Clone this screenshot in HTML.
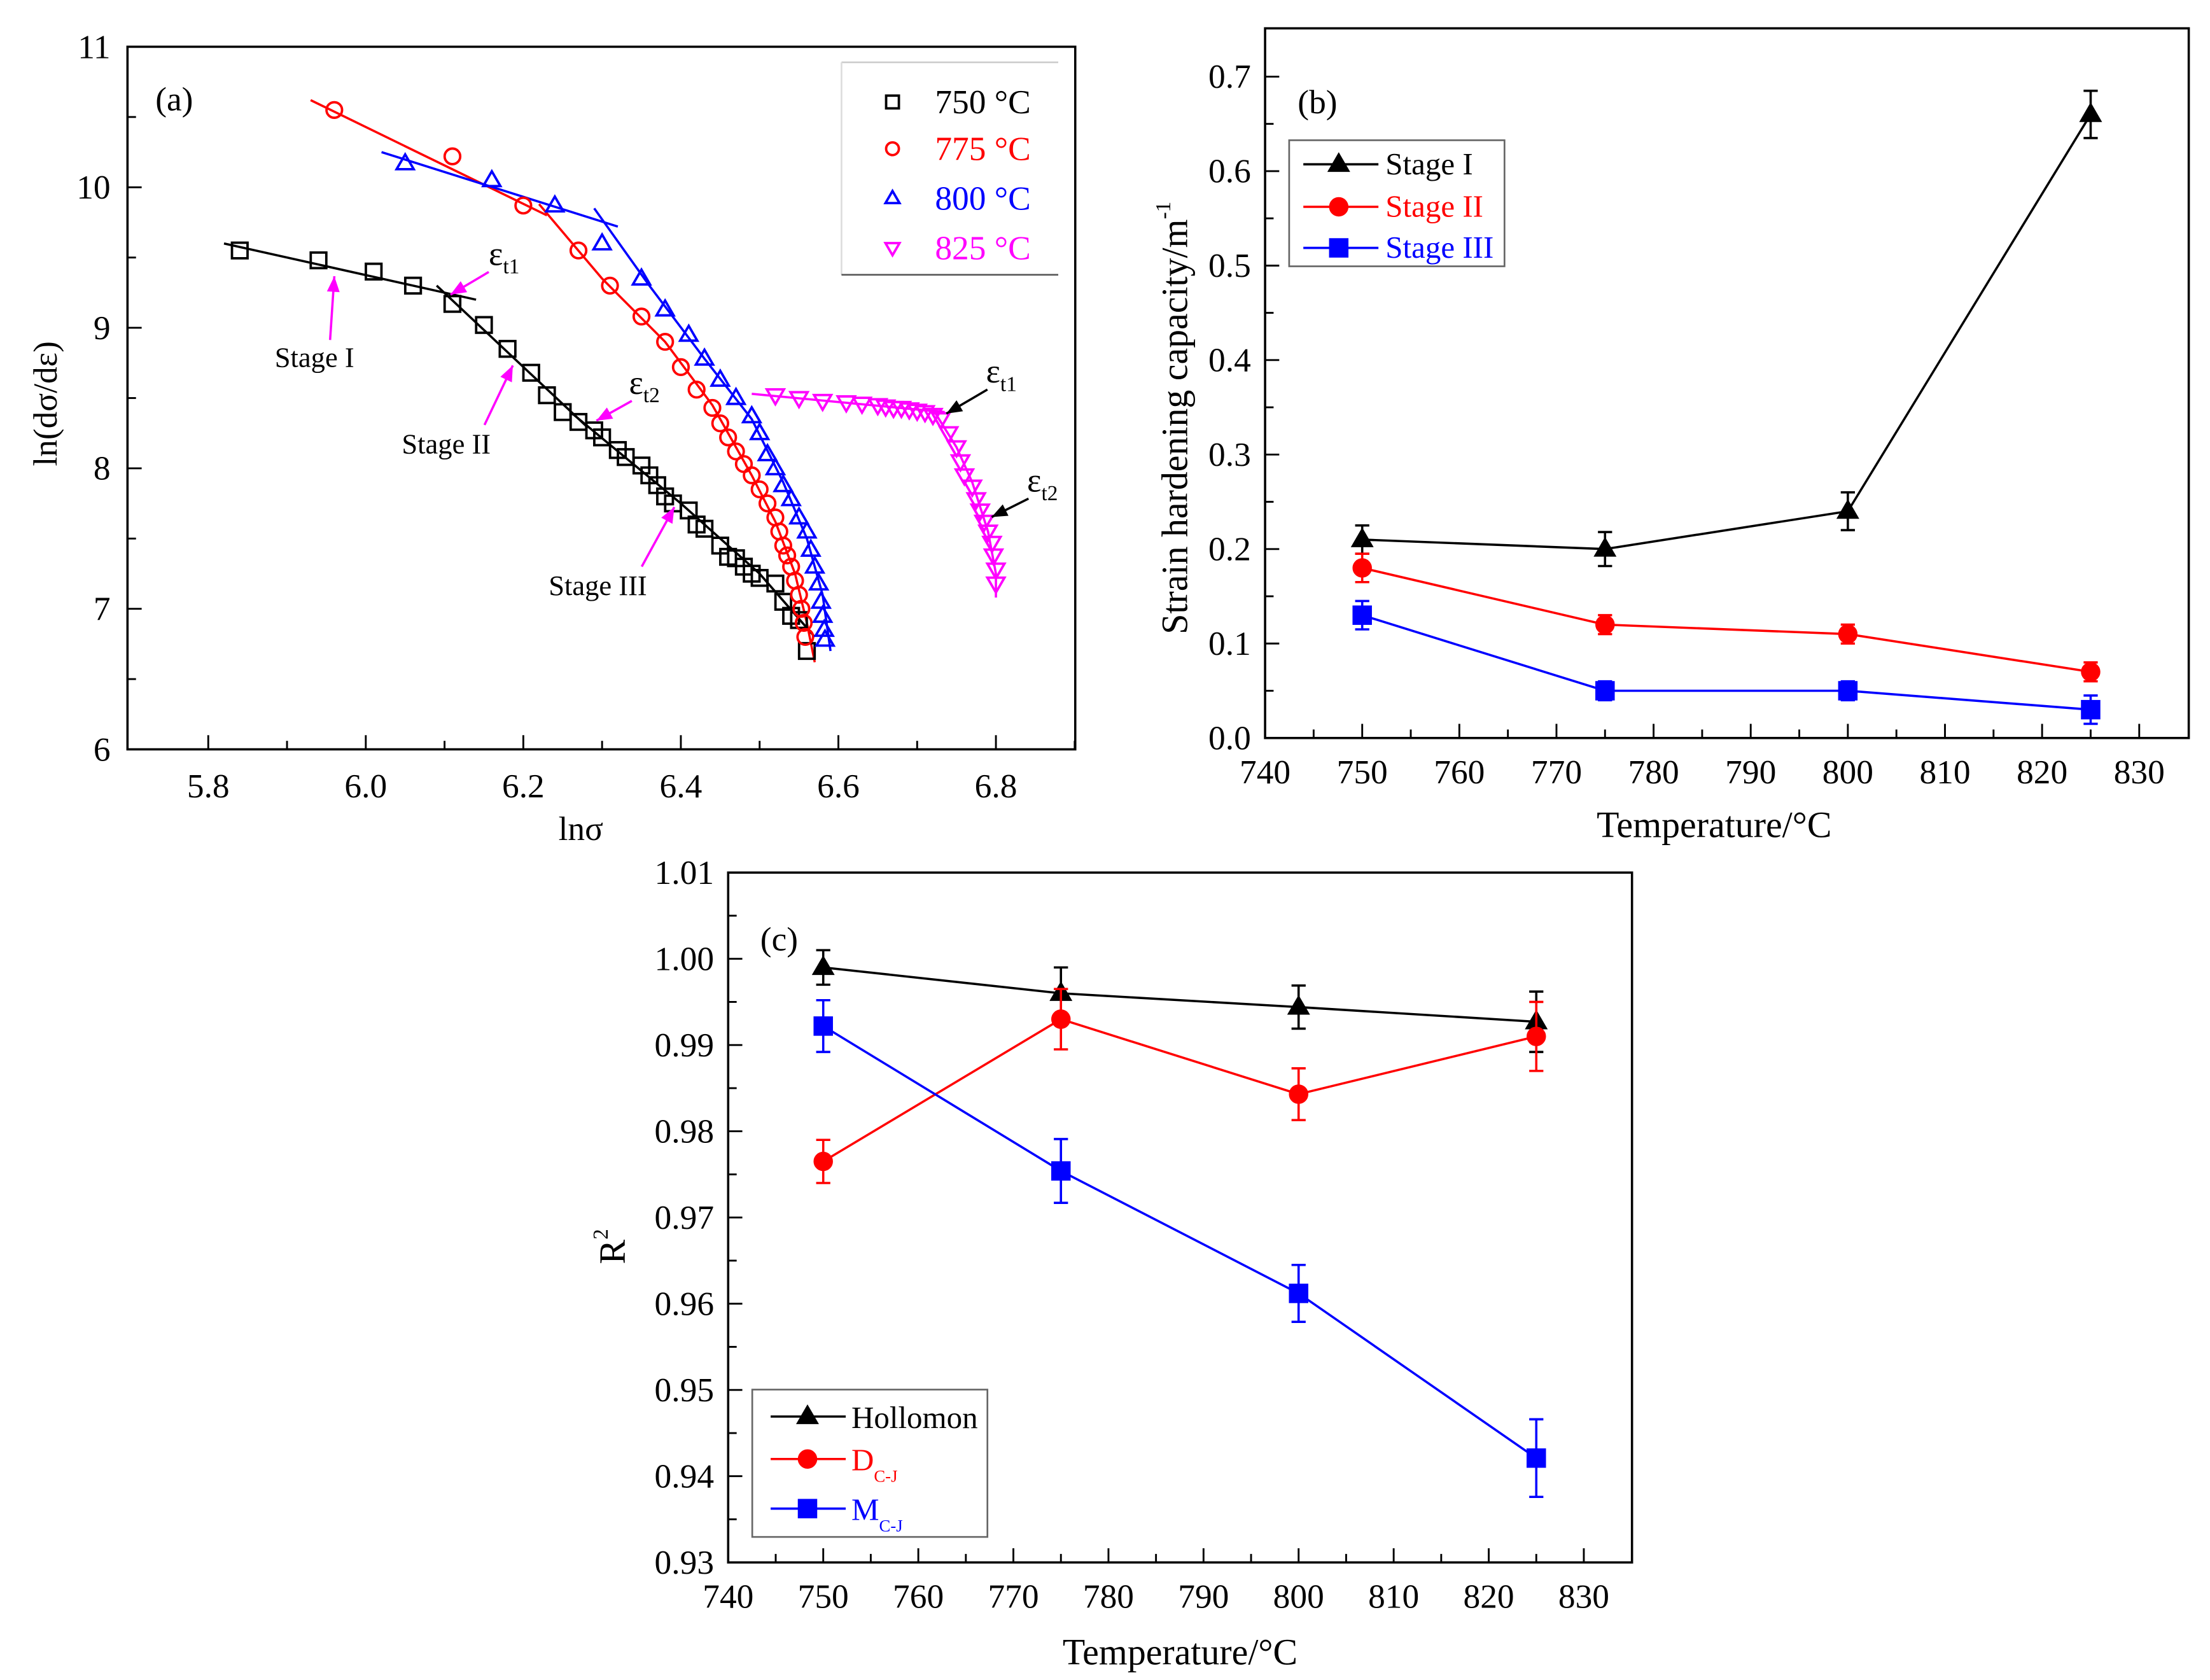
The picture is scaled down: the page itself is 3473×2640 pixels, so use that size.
<!DOCTYPE html>
<html><head><meta charset="utf-8"><style>
html,body{margin:0;padding:0;background:#fff;}
svg{display:block;}
text{font-family:"Liberation Serif",serif;}
</style></head><body>
<svg id="fig" width="3473" height="2640" viewBox="0 0 1560 1186" preserveAspectRatio="none" xmlns="http://www.w3.org/2000/svg" font-family="Liberation Serif, serif">
<rect x="0" y="0" width="1560" height="1186" fill="#fff"/>
</svg>
<script>
// ---------- Panel (a) data ----------
const a750x=[5.84,5.94,6.01,6.06,6.11,6.15,6.18,6.21,6.23,6.25,6.27,6.29,6.30,6.32,6.33,6.35,6.36,6.37,6.38,6.39,6.41,6.42,6.43,6.45,6.46,6.47,6.48,6.49,6.50,6.52,6.53,6.54,6.55,6.56];
const a750y=[9.55,9.48,9.40,9.30,9.17,9.02,8.85,8.68,8.52,8.40,8.33,8.27,8.22,8.13,8.08,8.02,7.95,7.88,7.80,7.75,7.70,7.60,7.57,7.45,7.37,7.36,7.30,7.25,7.22,7.18,7.05,6.95,6.92,6.70];
const a775x=[5.96,6.11,6.20,6.27,6.31,6.35,6.38,6.40,6.42,6.44,6.45,6.46,6.47,6.48,6.49,6.50,6.51,6.52,6.525,6.53,6.535,6.54,6.545,6.55,6.553,6.556,6.558];
const a775y=[10.55,10.22,9.87,9.55,9.30,9.08,8.90,8.72,8.56,8.43,8.32,8.22,8.12,8.03,7.95,7.85,7.75,7.65,7.55,7.45,7.38,7.30,7.20,7.10,7.00,6.90,6.80];
const a800x=[6.05,6.16,6.24,6.30,6.35,6.38,6.41,6.43,6.45,6.47,6.49,6.50,6.51,6.52,6.53,6.54,6.55,6.56,6.565,6.57,6.575,6.578,6.58,6.582,6.583];
const a800y=[10.17,10.05,9.87,9.60,9.35,9.13,8.95,8.78,8.63,8.50,8.37,8.25,8.10,8.00,7.88,7.78,7.65,7.55,7.42,7.30,7.18,7.05,6.95,6.85,6.78];
const a825x=[6.52,6.55,6.58,6.61,6.63,6.65,6.66,6.67,6.68,6.69,6.70,6.71,6.72,6.73,6.74,6.75,6.755,6.76,6.77,6.775,6.78,6.785,6.79,6.795,6.797,6.80,6.80];
const a825y=[8.52,8.50,8.48,8.47,8.46,8.45,8.44,8.43,8.43,8.42,8.41,8.40,8.38,8.35,8.25,8.15,8.05,7.95,7.87,7.78,7.70,7.62,7.55,7.47,7.38,7.28,7.18];
// fit lines
const f750x1=[5.82,6.14], f750y1=[9.60,9.20];
const f750x2=[6.09,6.28], f750y2=[9.30,8.30];
const f750x3=[6.26,6.40,6.50,6.57], f750y3=[8.40,7.75,7.25,6.80];
const f775x1=[5.93,6.23], f775y1=[10.62,9.80];
const f775x2=[6.22,6.30,6.38,6.44,6.49,6.52,6.545,6.56,6.57], f775y2=[9.88,9.35,8.90,8.45,7.95,7.62,7.25,6.90,6.62];
const f800x1=[6.02,6.32], f800y1=[10.25,9.72];
const f800x2=[6.29,6.36,6.43,6.49,6.53,6.56,6.58,6.59], f800y2=[9.85,9.30,8.78,8.35,7.90,7.50,7.10,6.70];
const f825x1=[6.49,6.735], f825y1=[8.53,8.40];
const f825x2=[6.72,6.75,6.77,6.79,6.80,6.80], f825y2=[8.42,8.15,7.90,7.55,7.25,7.08];
const aXTicks=["5.8","6.0","6.2","6.4","6.6","6.8"];
const aYTicks=["6","7","8","9","10","11"];

// ---------- Panel (b) data ----------
const temps=[750,775,800,825];
const bS1=[0.21,0.20,0.24,0.66], bS1e=[0.015,0.018,0.02,0.025];
const bS2=[0.18,0.12,0.11,0.07], bS2e=[0.015,0.01,0.01,0.01];
const bS3=[0.13,0.05,0.05,0.03], bS3e=[0.015,0.01,0.01,0.015];
const bXTicks=["740","750","760","770","780","790","800","810","820","830"];
const bYTicks=["0.0","0.1","0.2","0.3","0.4","0.5","0.6","0.7"];

// ---------- Panel (c) data ----------
const cH=[0.999,0.996,0.9944,0.9927], cHe=[0.002,0.003,0.0025,0.0035];
const cD=[0.9765,0.993,0.9843,0.991], cDe=[0.0025,0.0035,0.003,0.004];
const cM=[0.9922,0.9754,0.9612,0.9421], cMe=[0.003,0.0037,0.0033,0.0045];
const cYTicks=["0.93","0.94","0.95","0.96","0.97","0.98","0.99","1.00","1.01"];

const NS="http://www.w3.org/2000/svg";
const svg=document.getElementById('fig');
function mk(tag,attrs,parent){const e=document.createElementNS(NS,tag);for(const k in attrs)e.setAttribute(k,attrs[k]);(parent||svg).appendChild(e);return e;}
function txt(s,x,y,size,fill,anchor,parent){const t=mk('text',{x:x,y:y,'font-size':size,fill:fill||'#000','text-anchor':anchor||'middle','font-family':'Liberation Serif, serif'},parent);t.textContent=s;return t;}
function marker(type,x,y,col,r,filled,parent){
  let e;
  const f=filled?col:'none';
  if(type==='sq') e=mk('rect',{x:x-r,y:y-r,width:2*r,height:2*r,fill:f,stroke:col,'stroke-width':1.7},parent);
  else if(type==='ci') e=mk('circle',{cx:x,cy:y,r:r,fill:f,stroke:col,'stroke-width':1.7},parent);
  else if(type==='tu') e=mk('polygon',{points:`${x},${y-r*1.15} ${x-r*1.1},${y+r*0.75} ${x+r*1.1},${y+r*0.75}`,fill:f,stroke:col,'stroke-width':1.7},parent);
  else e=mk('polygon',{points:`${x},${y+r*1.15} ${x-r*1.1},${y-r*0.75} ${x+r*1.1},${y-r*0.75}`,fill:f,stroke:col,'stroke-width':1.7},parent);
  return e;
}
function arrow(x1,y1,x2,y2,col,parent){
  mk('line',{x1:x1,y1:y1,x2:x2,y2:y2,stroke:col,'stroke-width':1.6},parent);
  const ang=Math.atan2(y2-y1,x2-x1),L=11,W=4.5;
  const bx=x2-L*Math.cos(ang),by=y2-L*Math.sin(ang);
  mk('polygon',{points:`${x2},${y2} ${bx+W*Math.sin(ang)},${by-W*Math.cos(ang)} ${bx-W*Math.sin(ang)},${by+W*Math.cos(ang)}`,fill:col},parent);
}

// ===== Panel (a) =====
const gA=mk('g',{});


const AX0=90,AX1=759,AY0=33,AY1=529;
const ax=v=>147+(v-5.8)*556, ay=v=>529-(v-6)*99.2;
mk('rect',{x:AX0,y:AY0,width:AX1-AX0,height:AY1-AY0,fill:'none',stroke:'#000','stroke-width':1.6},gA);
for(let i=0;i<aXTicks.length;i++){const v=parseFloat(aXTicks[i]);const x=ax(v);
  mk('line',{x1:x,y1:AY1,x2:x,y2:AY1-10,stroke:'#000','stroke-width':1.3},gA);
  const mx=ax(v+0.1); if(mx<AX1) mk('line',{x1:mx,y1:AY1,x2:mx,y2:AY1-6,stroke:'#000','stroke-width':1.3},gA);
  txt(aXTicks[i],x,AY1+34,24,'#000','middle',gA);}
for(let i=0;i<aYTicks.length;i++){const v=parseFloat(aYTicks[i]);const y=ay(v);
  mk('line',{x1:AX0,y1:y,x2:AX0+10,y2:y,stroke:'#000','stroke-width':1.3},gA);
  if(v<11) mk('line',{x1:AX0,y1:ay(v+0.5),x2:AX0+6,y2:ay(v+0.5),stroke:'#000','stroke-width':1.3},gA);
  txt(aYTicks[i],AX0-12,y+8,24,'#000','end',gA);}
const axt=txt('lnσ',410,593,24,'#000','middle',gA);


const ayt=txt('ln(dσ/dε)',0,0,24,'#000','middle',gA);
ayt.setAttribute('transform','translate(40,285) rotate(-90)');


txt('(a)',123,78,24,'#000','middle',gA);
function polyA(xs,ys,col,name){const p=mk('polyline',{points:xs.map((v,i)=>ax(v)+','+ay(ys[i])).join(' '),fill:'none',stroke:col,'stroke-width':1.6},gA);
  
  }
polyA(f750x1,f750y1,'#000','fit-750-stage1');polyA(f750x2,f750y2,'#000','fit-750-stage2');polyA(f750x3,f750y3,'#000','fit-750-stage3');
polyA(f775x1,f775y1,'#f00','fit-775-stage1');polyA(f775x2,f775y2,'#f00','fit-775-stage2');
polyA(f800x1,f800y1,'#00f','fit-800-stage1');polyA(f800x2,f800y2,'#00f','fit-800-stage2');
polyA(f825x1,f825y1,'#f0f','fit-825-stage1');polyA(f825x2,f825y2,'#f0f','fit-825-stage2');
function scatA(xs,ys,type,col,name){const g=mk('g',{},gA);
  
  
  for(let i=0;i<xs.length;i++) marker(type,ax(xs[i]),ay(ys[i]),col,5.5,false,g);}
scatA(a750x,a750y,'sq','#000','series-750');
scatA(a775x,a775y,'ci','#f00','series-775');
scatA(a800x,a800y,'tu','#00f','series-800');
scatA(a825x,a825y,'td','#f0f','series-825');
// annotations
txt('Stage I',222,259,20,'#000','middle',gA); arrow(233,240,236,195,'#f0f',gA);
txt('Stage II',315,320,20,'#000','middle',gA); arrow(342,300,362,258,'#f0f',gA);
txt('Stage III',422,420,20,'#000','middle',gA); arrow(453,400,476,358,'#f0f',gA);
function eps(x,y,sub,parent){const t=txt('ε',x,y,24,'#000','start',parent);const s=mk('tspan',{'font-size':15,dy:6},t);s.textContent=sub;}
eps(345,187,'t1',gA); arrow(345,192,318,208,'#f0f',gA);
eps(444,278,'t2',gA); arrow(446,283,421,297,'#f0f',gA);
eps(696,270,'t1',gA); arrow(697,275,668,292,'#000',gA);
eps(725,347,'t2',gA); arrow(726,352,700,365,'#000',gA);
// legend a
const lgA=mk('g',{},gA);


mk('line',{x1:594,y1:44,x2:747,y2:44,stroke:'#ccc','stroke-width':1.2},lgA);
mk('line',{x1:594,y1:44,x2:594,y2:194,stroke:'#ddd','stroke-width':1.2},lgA);
mk('line',{x1:594,y1:194,x2:747,y2:194,stroke:'#555','stroke-width':1.2},lgA);
const legA=[['sq','#000','750 °C',72],['ci','#f00','775 °C',105],['tu','#00f','800 °C',140],['td','#f0f','825 °C',175]];
legA.forEach(l=>{marker(l[0],630,l[3],l[1],4.5,false,lgA);txt(l[2],660,l[3]+8,24,l[1],'start',lgA);});

// ===== Generic temperature panel =====
function tempPanel(name,X0,X1,Y0,Y1,xf,yf,yTicks,yMinorStep,series){
  const g=mk('g',{});
  
  
  mk('rect',{x:X0,y:Y0,width:X1-X0,height:Y1-Y0,fill:'none',stroke:'#000','stroke-width':1.6},g);
  for(let i=0;i<bXTicks.length;i++){const v=parseFloat(bXTicks[i]);const x=xf(v);
    mk('line',{x1:x,y1:Y1,x2:x,y2:Y1-10,stroke:'#000','stroke-width':1.3},g);
    if(v<830) mk('line',{x1:xf(v+5),y1:Y1,x2:xf(v+5),y2:Y1-6,stroke:'#000','stroke-width':1.3},g);
    txt(bXTicks[i],x,Y1+32,24,'#000','middle',g);}
  for(let i=0;i<yTicks.length;i++){const v=parseFloat(yTicks[i]);const y=yf(v);
    mk('line',{x1:X0,y1:y,x2:X0+10,y2:y,stroke:'#000','stroke-width':1.3},g);
    if(i<yTicks.length-1) mk('line',{x1:X0,y1:yf(v+yMinorStep),x2:X0+6,y2:yf(v+yMinorStep),stroke:'#000','stroke-width':1.3},g);
    txt(yTicks[i],X0-10,y+8,24,'#000','end',g);}
  series.forEach(s=>{
    const sg=mk('g',{},g);
    
    
    mk('polyline',{points:temps.map((t,i)=>xf(t)+','+yf(s.v[i])).join(' '),fill:'none',stroke:s.col,'stroke-width':1.6},sg);
    temps.forEach((t,i)=>{const x=xf(t),yt=yf(s.v[i]+s.e[i]),yb=yf(s.v[i]-s.e[i]);
      mk('line',{x1:x,y1:yt,x2:x,y2:yb,stroke:s.col,'stroke-width':1.6},sg);
      mk('line',{x1:x-5,y1:yt,x2:x+5,y2:yt,stroke:s.col,'stroke-width':1.6},sg);
      mk('line',{x1:x-5,y1:yb,x2:x+5,y2:yb,stroke:s.col,'stroke-width':1.6},sg);
      marker(s.m,x,yf(s.v[i]),s.col,6,true,sg);});
  });
  return g;
}
// ===== Panel (b) =====
const bx=t=>893+(t-740)*6.856, by=v=>521-v*667;
const gB=tempPanel('panel-b',893,1545,20,521,bx,by,bYTicks,0.05,[
  {name:'series-stage-1',v:bS1,e:bS1e,col:'#000',m:'tu'},
  {name:'series-stage-2',v:bS2,e:bS2e,col:'#f00',m:'ci'},
  {name:'series-stage-3',v:bS3,e:bS3e,col:'#00f',m:'sq'}]);
txt('(b)',930,80,24,'#000','middle',gB);
const bxt=txt('Temperature/°C',1210,591,26,'#000','middle',gB);


const byt=txt('Strain hardening capacity/m',0,0,26,'#000','middle',gB);
const bsup=mk('tspan',{'font-size':15,dy:-12},byt); bsup.textContent='-1';
byt.setAttribute('transform','translate(838,295) rotate(-90)');


const lgB=mk('g',{},gB);


mk('rect',{x:910,y:99,width:152,height:89,fill:'#fff',stroke:'#666','stroke-width':1.2},lgB);
[['tu','#000','Stage I',116],['ci','#f00','Stage II',146],['sq','#00f','Stage III',175]].forEach(l=>{
  mk('line',{x1:920,y1:l[3],x2:973,y2:l[3],stroke:l[1],'stroke-width':1.6},lgB);
  marker(l[0],945,l[3],l[1],6,true,lgB);txt(l[2],978,l[3]+7,22,l[1],'start',lgB);});

// ===== Panel (c) =====
const cx=t=>514+(t-740)*6.711, cy=v=>1103-(v-0.93)*6087.5;
const gC=tempPanel('panel-c',514,1152,616,1103,cx,cy,cYTicks,0.005,[
  {name:'series-hollomon',v:cH,e:cHe,col:'#000',m:'tu'},
  {name:'series-dcj',v:cD,e:cDe,col:'#f00',m:'ci'},
  {name:'series-mcj',v:cM,e:cMe,col:'#00f',m:'sq'}]);
txt('(c)',550,671,24,'#000','middle',gC);
const cxt=txt('Temperature/°C',833,1175,26,'#000','middle',gC);


const cyt=txt('R',0,0,26,'#000','middle',gC);
const csup=mk('tspan',{'font-size':15,dy:-12},cyt); csup.textContent='2';
cyt.setAttribute('transform','translate(441,880) rotate(-90)');


const lgC=mk('g',{},gC);


mk('rect',{x:531,y:981,width:166,height:104,fill:'#fff',stroke:'#666','stroke-width':1.2},lgC);
[['tu','#000','Hollomon','',1000],['ci','#f00','D','C-J',1030],['sq','#00f','M','C-J',1065]].forEach(l=>{
  mk('line',{x1:544,y1:l[4],x2:597,y2:l[4],stroke:l[1],'stroke-width':1.6},lgC);
  marker(l[0],570,l[4],l[1],6,true,lgC);
  const t=txt(l[2],601,l[4]+8,22,l[1],'start',lgC);
  if(l[3]){const s=mk('tspan',{'font-size':12,dy:8},t);s.textContent=l[3];}});
</script>
</body></html>
